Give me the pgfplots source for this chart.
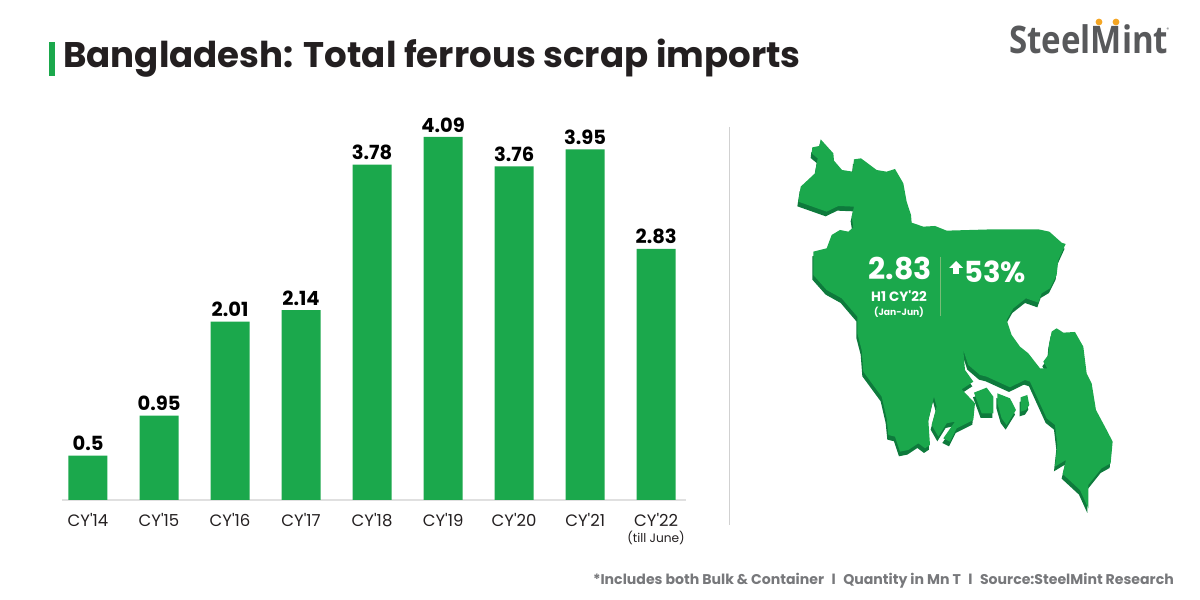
\documentclass[border=0pt]{standalone}
\usepackage{pgfplots}
\usepackage{fontspec}
\pgfplotsset{compat=1.18}
\setmainfont{Poppins}[Ligatures=TeXOff]
\newfontfamily\logofont{Open Sans}
\definecolor{bargreen}{HTML}{1BA84C}
\definecolor{darkgreen}{HTML}{0E7A3C}
\definecolor{inkk}{HTML}{231F20}
\definecolor{logogrey}{HTML}{58595B}
\definecolor{footgrey}{HTML}{77787B}
\definecolor{dotorange}{HTML}{F5A623}
\pgfplotstableread{
x v
0 0.5
1 0.95
2 2.01
3 2.14
4 3.78
5 4.09
6 3.76
7 3.95
8 2.83
}\scrapdata
\newcommand{\mapmain}{(122,58) -- (160,100) -- (162,122) -- (186,150) -- (218,155) -- (222,118) -- (243,115) -- (290,150) -- (320,155) -- (345,147) -- (370,190) -- (380,245) -- (393,285) -- (395,308) -- (430,320) -- (465,318) -- (500,332) -- (640,328) -- (775,328) -- (808,335) -- (845,368) -- (857,372) -- (835,420) -- (830,465) -- (810,505) -- (785,520) -- (775,548) -- (738,535) -- (700,565) -- (680,600) -- (695,645) -- (720,680) -- (745,700) -- (780,745) -- (802,745) -- (790,725) -- (805,705) -- (808,670) -- (815,635) -- (830,625) -- (850,638) -- (885,636) -- (910,680) -- (920,760) -- (935,790) -- (948,870) -- (980,930) -- (998,965) -- (992,1030) -- (965,1045) -- (925,1095) -- (925,1165) -- (900,1110) -- (848,1062) -- (858,1020) -- (825,1040) -- (832,975) -- (825,915) -- (800,895) -- (750,785) -- (735,780) -- (690,802) -- (620,770) -- (600,765) -- (565,735) -- (550,690) -- (555,750) -- (580,785) -- (545,808) -- (585,850) -- (580,900) -- (530,925) -- (510,965) -- (490,955) -- (525,905) -- (500,910) -- (475,950) -- (455,915) -- (470,860) -- (462,830) -- (445,900) -- (450,975) -- (435,985) -- (415,970) -- (385,990) -- (360,995) -- (345,950) -- (325,945) -- (320,895) -- (305,830) -- (250,755) -- (245,690) -- (232,640) -- (232,590) -- (185,535) -- (140,510) -- (100,465) -- (100,395) -- (140,385) -- (155,345) -- (180,330) -- (205,335) -- (220,322) -- (215,290) -- (222,260) -- (175,258) -- (140,275) -- (55,245) -- (62,200) -- (105,160) -- (113,115) -- (95,100) -- (97,82) -- (118,78) -- cycle
(582,818) -- (620,803) -- (640,830) -- (640,880) -- (605,880) -- cycle
(652,820) -- (690,835) -- (708,870) -- (680,915) -- (665,895) -- (652,850) -- cycle
(722,832) -- (742,825) -- (748,855) -- (738,870) -- (722,875) -- cycle}
\begin{document}
\begin{tikzpicture}[x=1pt,y=1pt]
\path[use as bounding box] (0,0) rectangle (1200,600);
\begin{axis}[
  at={(62pt,100pt)}, anchor=south west,
  scale only axis, width=624pt, height=399.4pt,
  xmin=-0.366, xmax=8.42, ymin=0, ymax=4.5,
  ybar, bar width=39pt, bar shift=0pt,
  axis x line=bottom, axis y line=none,
  axis line style={draw=black!12, line width=1.6pt, -},
  xtick=data,
  xticklabels={CY'14,CY'15,CY'16,CY'17,CY'18,CY'19,CY'20,CY'21,CY'22},
  x tick label style={font=\fontsize{16.5}{18}\selectfont, text=inkk, yshift=-9.5pt},
  major tick length=0pt,
  clip=false,
  nodes near coords,
  every node near coord/.append style={font=\fontsize{19.5}{21}\selectfont\bfseries, text=black, inner sep=1.5pt, yshift=3pt, /pgf/number format/assume math mode=true, /pgf/number format/fixed, /pgf/number format/precision=2},
]
\addplot[fill=bargreen, draw=none] table[x=x,y=v] {\scrapdata};
\end{axis}
% page furniture
\fill[bargreen] (49,524) rectangle (55,558);
\node[anchor=west, inner sep=0, text=inkk, font=\fontsize{35.6}{40}\selectfont\bfseries] at (63,542) {Bangladesh: Total ferrous scrap imports};
\node[text=inkk, font=\fontsize{12.2}{14}\selectfont, inner sep=0] at (656,62) {(till June)};
\draw[black!18, line width=1pt] (729,473) -- (729,75);
\node[anchor=east, inner sep=0, text=footgrey, font=\fontsize{14.1}{16}\selectfont\bfseries] at (1174,19) {*Includes both Bulk \& Container\hspace{7.5pt}l\hspace{7.5pt}Quantity in Mn T\hspace{7.5pt}l\hspace{7.5pt}Source:SteelMint Research};
% logo
\node[anchor=base west, inner sep=0, xscale=0.87, text=logogrey, font=\logofont\fontsize{38}{40}\selectfont\bfseries] at (1009,546) {SteelMint};
\fill[dotorange] (1099,578) circle (3.4);
\fill[dotorange] (1116,578) circle (3.4);
\node[text=logogrey, font=\fontsize{5}{6}\selectfont, inner sep=0] at (1168,570) {\textregistered};
% map
\begin{scope}[shift={(780,480)}, x=0.3333pt, y=-0.3333pt]
\begin{scope}[shift={(-3,14)}]
\fill[darkgreen] \mapmain;
\end{scope}
\fill[bargreen] \mapmain;
\draw[white!40!bargreen!80!olive, line width=1pt] (482,410) -- (482,588);
\end{scope}
\node[white, font=\fontsize{30}{32}\selectfont\bfseries, inner sep=0] at (900,331) {2.83};
\node[white, font=\fontsize{13.5}{15}\selectfont, inner sep=0] at (899,304) {\textbf{H1 CY'22}};
\node[white, font=\fontsize{9.2}{11}\selectfont, inner sep=0] at (899,288) {\textbf{(Jan-Jun)}};
\node[white, font=\fontsize{29}{32}\selectfont\bfseries, inner sep=0] at (995,328) {53\%};
\fill[white] (949,332) -- (956,339) -- (963,332) -- cycle;
\fill[white] (953,332) rectangle (959,326);
\end{tikzpicture}
\end{document}
